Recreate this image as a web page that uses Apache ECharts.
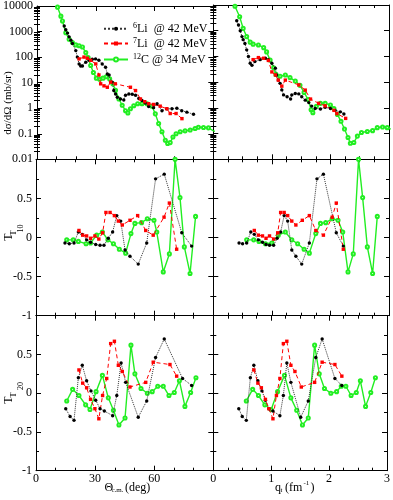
<!DOCTYPE html>
<html>
<head>
<meta charset="utf-8">
<script src="https://cdn.jsdelivr.net/npm/echarts@6/dist/echarts.min.js"></script>
<style>
  html, body { margin: 0; padding: 0; background: #fff; }
  #chart { width: 393px; height: 500px; }
</style>
</head>
<body>
<div id="chart"></div>
<script>
// ---- data ----
// cross sections (mb/sr) vs theta_cm (deg) and vs q_t (fm^-1)
const li6XsTheta = [[13.9,1660],[14.7,1170],[15.6,870],[16.4,620],[17.3,460],[18.1,340],[19.8,180],[20.6,100],[21.5,54],[22.3,45],[23.2,45],[24.9,63],[26.6,75],[28.2,82],[29.9,85],[31.6,75],[33.3,54],[35,40],[35.9,22],[36.8,20],[38.4,10.5],[39.2,4.9],[40.1,3.6],[41,2.7],[42.6,2.3],[44.3,2.1],[45.2,3.2],[46.9,3.6],[48.6,3.5],[50.3,3.2],[52,2.4],[53.6,2.0],[55.3,1.6],[57,1.17],[59.5,1.05],[61.3,1.5],[63.8,0.8],[66.3,0.95],[68.9,0.95],[71.4,1.0],[73.9,0.8],[76.5,0.7],[79.9,0.58]];
const li7XsTheta = [[21.5,85],[24,100],[25.7,90],[27.4,75],[30,54],[31.6,20],[32.5,9],[34.2,7.5],[35.9,6.6],[37.6,10.5],[40,9],[47.7,6.6],[50.3,4.9],[52.8,2.3],[55,1.8],[57,1.5],[59.5,1.4],[62.9,1.2],[66.3,0.95],[68,0.62],[71,0.62],[74,0.39]];
const c12XsTheta = [[10.5,9000],[12.2,4000],[13,2600],[14.7,900],[16.4,500],[18.1,370],[19.8,300],[21.5,280],[23.2,250],[24.9,150],[26.1,95],[27.4,47],[28.8,25],[30.3,15],[32,13.5],[33.7,15],[35.4,17],[37.1,14],[38.7,9],[40.1,5],[41.8,2.3],[43.5,1.3],[45.2,0.8],[46.4,0.65],[47.7,0.95],[49.4,1.25],[51.4,1.5],[53.6,1.5],[56.2,1.5],[58.7,1.2],[60.4,0.6],[62.1,0.25],[63.8,0.12],[65.5,0.056],[66.7,0.042],[68,0.045],[69.4,0.075],[71,0.1],[73.1,0.12],[75.6,0.13],[78.2,0.14],[80.7,0.16],[82.4,0.18],[85,0.175],[87.5,0.17],[90.1,0.13],[91.5,0.12]];

const li6XsQ = [[0.4,2450],[0.43,1660],[0.46,1000],[0.49,590],[0.51,450],[0.54,320],[0.57,180],[0.6,100],[0.63,54],[0.66,45],[0.71,63],[0.8,75],[0.89,85],[0.94,75],[1.0,54],[1.06,35],[1.08,19],[1.11,12],[1.14,9],[1.17,5],[1.2,3.2],[1.26,2.7],[1.32,2.2],[1.34,3.2],[1.4,3.6],[1.46,3.5],[1.51,2.7],[1.57,2.0],[1.63,1.6],[1.68,1.17],[1.74,0.95],[1.83,0.9],[1.91,1.05],[2.0,0.95],[2.08,0.8],[2.17,0.7],[2.23,0.58]];
const li7XsQ = [[0.68,75],[0.77,90],[0.86,85],[0.94,70],[1.0,25],[1.06,19],[1.11,12],[1.17,7],[1.23,12],[1.46,7.8],[1.57,4.9],[1.66,2.2],[1.8,1.5],[1.91,1.2],[2.06,0.8],[2.11,0.6],[2.26,0.39]];
const c12XsQ = [[0.37,9000],[0.45,3500],[0.51,1230],[0.57,590],[0.63,360],[0.68,300],[0.77,280],[0.86,220],[0.91,150],[0.97,72],[1.03,36],[1.07,20],[1.14,17],[1.23,19],[1.31,15],[1.4,11],[1.48,7.5],[1.55,4],[1.62,2.1],[1.67,0.85],[1.7,0.65],[1.76,1.15],[1.83,1.5],[1.91,1.5],[2.0,1.3],[2.06,0.95],[2.12,0.55],[2.18,0.3],[2.24,0.15],[2.3,0.07],[2.34,0.042],[2.4,0.045],[2.46,0.08],[2.53,0.11],[2.63,0.12],[2.72,0.13],[2.8,0.17],[2.89,0.18],[2.97,0.17],[3.03,0.15]];

// T10
const li6T10Theta = [14.7,16.9,19.3,21.5,23.5,25.7,27.7,30.3,32.5,34.5,36.7,38.9,41,43,45.2,47.7,51.9,56.2,60.7,65.1,74,79];
const li6T10Q     = [0.44,0.50,0.57,0.64,0.70,0.77,0.84,0.90,0.96,1.03,1.09,1.15,1.21,1.27,1.34,1.41,1.51,1.64,1.77,1.88,2.1,2.22];
const li6T10      = [-0.07,-0.08,-0.07,0.07,0.04,-0.03,-0.06,-0.09,-0.1,-0.1,-0.01,0.07,0.28,0.21,-0.16,-0.24,-0.34,-0.07,0.75,0.81,0.06,-0.11];
const li7T10Theta = [21.8,23.7,25.7,27.7,29.9,31.9,33.8,35.5,37.6,39.8,41.8,43.8,47.7,51.6,55.7,59.5,65,67.7,71.4];
const li7T10Q     = [0.70,0.77,0.84,0.90,0.96,1.03,1.10,1.15,1.21,1.27,1.34,1.41,1.52,1.64,1.75,1.88,2.03,2.1,2.22];
const li7T10      = [0.09,0.03,0.02,-0.01,0.02,-0.02,0.06,0.32,0.32,0.28,0.21,0.16,0.22,0.28,0.09,0.03,0.26,0.44,-0.15];
const c12T10Theta = [15.6,18.9,21.5,25.4,27.7,30.8,33.7,36.5,39.3,42.3,45.5,48.2,50.2,53.6,56.5,59.9,61.3,64.6,67.7,70.6,73.1,75.3,78.2,81.0];
const c12T10Q     = [0.57,0.69,0.78,0.89,1.0,1.11,1.23,1.34,1.44,1.55,1.64,1.75,1.83,1.92,2.03,2.13,2.21,2.3,2.39,2.48,2.55,2.63,2.72,2.8];
const c12T10      = [-0.03,-0.03,-0.05,-0.08,-0.07,0.03,0.07,-0.03,-0.08,-0.15,-0.2,0.05,0.18,0.19,0.24,0.22,0.07,-0.44,-0.21,1.0,0.51,-0.12,-0.46,0.27];

// T20
const li6T20Theta = [15.1,17.3,19.3,21.5,23.5,25.7,27.9,30.3,32.5,34.7,38.9,41,43.2,45.5,51.9,56.2,60.7,65.1,74.4,79];
const li6T20Q     = [0.44,0.50,0.57,0.64,0.70,0.77,0.84,0.90,0.96,1.03,1.15,1.21,1.27,1.34,1.51,1.64,1.77,1.88,2.1,2.22];
const li6T20      = [-0.2,-0.3,-0.35,0.2,0.36,0.16,0.03,-0.09,-0.2,-0.23,-0.29,-0.03,0.39,0.14,-0.31,-0.1,0.46,0.7,0.19,0.1];
const li7T20Theta = [21.8,23.7,25.7,27.7,29.9,31.9,33.8,35.9,37.9,39.8,41.8,43.8,47.7,55.7,59.5,68,71.4];
const li7T20Q     = [0.70,0.77,0.83,0.90,0.96,1.03,1.09,1.15,1.21,1.27,1.34,1.41,1.52,1.75,1.88,2.1,2.22];
const li7T20      = [0.3,0.13,0.07,-0.08,-0.2,-0.33,-0.03,0.19,0.64,0.67,0.36,0.28,0.08,0.14,0.4,0.37,0.22];
const c12T20Theta = [15.6,18.6,21.8,25.2,27.4,30.5,33.7,36.7,39.3,42.1,45.2,48.2,50.2,53.3,56.5,59,61.8,64.6,67.5,70.2,72.8,75.6,78.5,81.2];
const c12T20Q     = [0.57,0.68,0.78,0.89,1.0,1.11,1.23,1.34,1.44,1.54,1.64,1.75,1.83,1.92,2.03,2.13,2.21,2.29,2.38,2.47,2.54,2.63,2.72,2.8];
const c12T20      = [-0.1,0.05,-0.03,-0.15,-0.21,0.02,0.23,-0.06,-0.22,-0.41,-0.32,0.62,0.25,0.06,0.0,0.02,0.09,0.09,-0.03,0.01,0.16,-0.17,0.01,0.2];

// ---- layout / styles ----
const FONT = 'Liberation Serif';
const GREEN = '#22ee22';
const rowTop = [5, 159.3, 315.7];
const rowH = [154.3, 156.4, 155];
const colLeft = [36, 213.3];
const colW = [177.3, 175.7];

const looks = {
  li6: {
    name: '6Li  @ 42 MeV', symbol: 'circle', symbolSize: 3.4,
    itemStyle: { color: '#000' },
    lineStyle: { color: '#333', width: 1, type: 'dotted' }
  },
  li7: {
    name: '7Li  @ 42 MeV', symbol: 'rect', symbolSize: 3.4,
    itemStyle: { color: '#ff0000' },
    lineStyle: { color: '#ff0000', width: 1, type: [4, 3] }
  },
  c12: {
    name: '12C @ 34 MeV', symbol: 'emptyCircle', symbolSize: 3.1,
    itemStyle: { color: GREEN, borderWidth: 0.8 },
    lineStyle: { color: GREEN, width: 1.4 }
  }
};

const zip = (xs, ys) => xs.map((x, i) => [x, ys[i]]);

const grids = [], xAxes = [], yAxes = [], series = [];

function fmtLog(v) {
  return v >= 1 ? String(Math.round(v)) : String(+v.toPrecision(1));
}

// positions of the 2..9 ticks inside each decade
function logMinorValues() {
  const out = [];
  for (let e = -2; e < 4; e++) {
    for (let k = 2; k < 10; k++) out.push(+(k * Math.pow(10, e)).toPrecision(2));
  }
  return out;
}

for (let r = 0; r < 3; r++) {
  for (let c = 0; c < 2; c++) {
    const gi = grids.length;
    grids.push({ left: colLeft[c], top: rowTop[r], width: colW[c], height: rowH[r] });

    let xMain;
    ['bottom', 'top'].forEach(pos => {
      if (pos === 'bottom') xMain = xAxes.length;
      xAxes.push({
        gridIndex: gi, type: 'value', position: pos,
        min: 0, max: c ? 3 : 90, interval: c ? 1 : 30,
        axisLine: { show: true, onZero: false, lineStyle: { color: '#000', width: 1 } },
        axisTick: { show: true, inside: true, length: 5, lineStyle: { color: '#000' } },
        minorTick: { show: true, splitNumber: c ? 4 : 3, length: 3, lineStyle: { color: '#000' } },
        splitLine: { show: false },
        axisLabel: {
          show: pos === 'bottom' && r === 2,
          showMaxLabel: c === 1, margin: 2,
          color: '#000', fontFamily: FONT, fontSize: 12
        }
      });
    });

    let yMain;
    ['left', 'right'].forEach(pos => {
      if (pos === 'left') yMain = yAxes.length;
      if (r === 0) {
        yAxes.push({
          gridIndex: gi, type: 'log', logBase: 10, position: pos,
          min: 0.01, max: 10000, splitNumber: 6,
          axisLine: { show: true, onZero: false, lineStyle: { color: '#000', width: 1 } },
          axisTick: { show: true, inside: true, length: 5, lineStyle: { color: '#000' } },
          splitLine: { show: false },
          axisLabel: {
            show: pos === 'left' && c === 0, margin: 4,
            color: '#000', fontFamily: FONT, fontSize: 12,
            formatter: fmtLog
          }
        });
        yAxes.push({
          gridIndex: gi, type: 'log', logBase: 10, position: pos,
          min: 0.01, max: 10000,
          axisLine: { show: false },
          axisTick: { show: true, inside: true, length: 3, customValues: logMinorValues(), lineStyle: { color: '#000' } },
          splitLine: { show: false },
          axisLabel: { show: false }
        });
      } else {
        yAxes.push({
          gridIndex: gi, type: 'value', position: pos,
          min: -1, max: 1, interval: 0.5,
          axisLine: { show: true, onZero: false, lineStyle: { color: '#000', width: 1 } },
          axisTick: { show: true, inside: true, length: 5, lineStyle: { color: '#000' } },
          minorTick: { show: true, splitNumber: 2, length: 3, lineStyle: { color: '#000' } },
          splitLine: { show: false },
          axisLabel: {
            show: pos === 'left' && c === 0, showMaxLabel: false, margin: 4,
            color: '#000', fontFamily: FONT, fontSize: 12
          }
        });
      }
    });

    const sets = [
      [[li6XsTheta, li7XsTheta, c12XsTheta], [li6XsQ, li7XsQ, c12XsQ]],
      [[zip(li6T10Theta, li6T10), zip(li7T10Theta, li7T10), zip(c12T10Theta, c12T10)],
       [zip(li6T10Q, li6T10), zip(li7T10Q, li7T10), zip(c12T10Q, c12T10)]],
      [[zip(li6T20Theta, li6T20), zip(li7T20Theta, li7T20), zip(c12T20Theta, c12T20)],
       [zip(li6T20Q, li6T20), zip(li7T20Q, li7T20), zip(c12T20Q, c12T20)]]
    ][r][c];

    ['li6', 'li7', 'c12'].forEach((k, i) => {
      series.push(Object.assign({
        type: 'line', xAxisIndex: xMain, yAxisIndex: yMain,
        data: sets[i], clip: true, z: k === 'c12' ? 3 : 4
      }, looks[k]));
    });
  }
}

// one legend block per entry so each row sits where the reference has it
const legendRowTop = [17.2, 32, 48];
const legends = ['li6', 'li7', 'c12'].map((k, i) => ({
  orient: 'vertical', left: 98, top: legendRowTop[i],
  itemWidth: 24, itemHeight: 5, itemGap: 0,
  data: [looks[k].name],
  selectedMode: false,
  textStyle: {
    color: '#000', fontFamily: FONT, fontSize: 12, lineHeight: 13,
    rich: { s: { fontSize: 8, fontFamily: FONT, verticalAlign: 'top', lineHeight: 8, padding: [0, 0, 6, 0] } }
  },
  formatter: n => n.replace(/^(\d+)/, '{s|$1}')
}));

const txt = (x, y, text, size, rot, align) => ({
  type: 'text', x: x, y: y, rotation: rot || 0,
  style: {
    text: text, fill: '#000', font: size + 'px "' + FONT + '"',
    textAlign: align || 'left', textVerticalAlign: 'middle'
  }
});

const chart = echarts.init(document.getElementById('chart'));
chart.setOption({
  animation: false,
  backgroundColor: '#fff',
  grid: grids,
  xAxis: xAxes,
  yAxis: yAxes,
  legend: legends,
  graphic: [
    txt(8, 103, 'dσ/dΩ (mb/sr)', 11, Math.PI / 2, 'center'),
    txt(8.5, 237, 'T', 12, Math.PI / 2, 'center'),
    txt(13.3, 233, 'T', 9, Math.PI / 2, 'center'),
    txt(20.5, 228.5, '10', 8, Math.PI / 2, 'center'),
    txt(8.5, 400, 'T', 12, Math.PI / 2, 'center'),
    txt(13.3, 395, 'T', 9, Math.PI / 2, 'center'),
    txt(20.5, 386, '20', 8, Math.PI / 2, 'center'),
    txt(104.5, 487.5, 'Θ', 12),
    txt(111.5, 490.5, 'c.m.', 7),
    txt(125, 487.5, '(deg)', 12),
    txt(275, 487.5, 'q', 12),
    txt(280.5, 490, 't', 7),
    txt(285, 487.5, '(fm', 12),
    txt(303.5, 483, '-1', 7),
    txt(310.5, 487.5, ')', 12)
  ],
  series: series
});
</script>
</body>
</html>
